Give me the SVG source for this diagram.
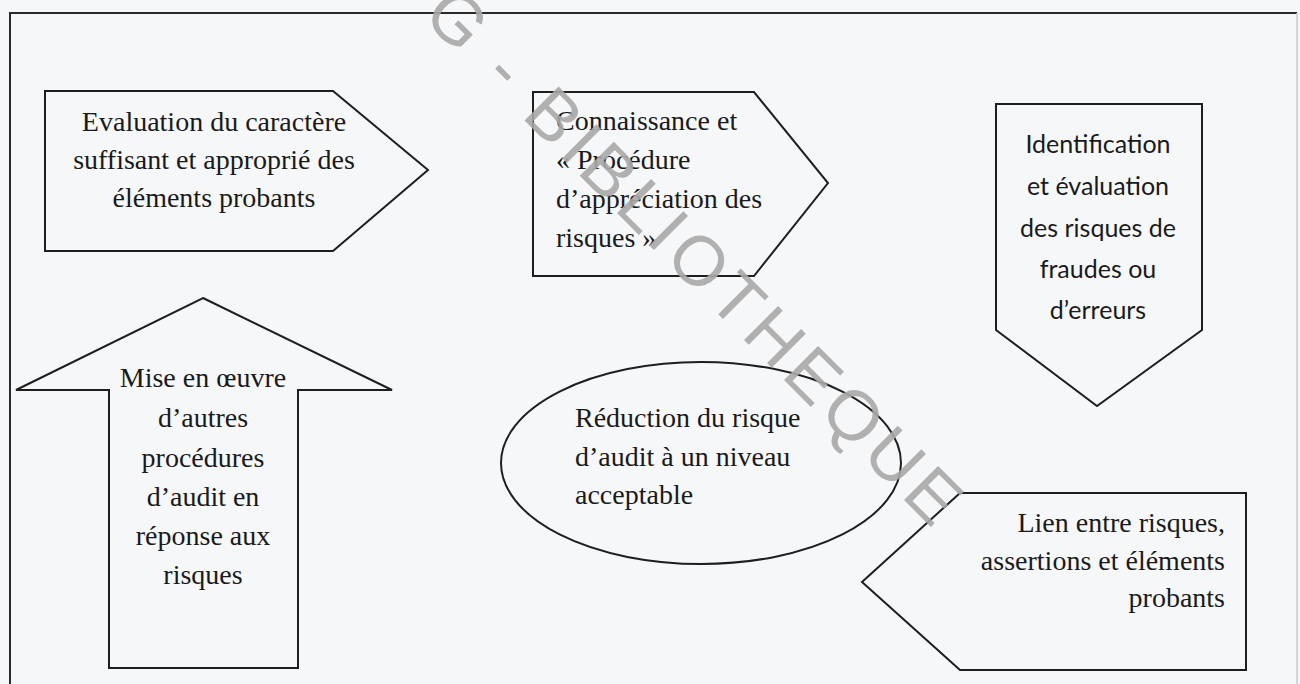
<svg xmlns="http://www.w3.org/2000/svg" width="1300" height="684" viewBox="0 0 1300 684">
<style>
.bg{fill:#f6f7f9}
.shape{fill:#f6f7f9;stroke:#1e1e1e;stroke-width:2;stroke-linejoin:miter}
.serif{font-family:"Liberation Serif","Times New Roman",serif;font-size:28px;fill:#1a1a1a}
.sans{font-family:Lato,"Open Sans","Liberation Sans",sans-serif;font-size:25px;fill:#1a1a1a}
.mid{text-anchor:middle}
.end{text-anchor:end}
.wm{font-family:"Liberation Sans",Arial,sans-serif;font-size:70px;fill:#a9a9a9}
</style>
<rect class="bg" x="0" y="0" width="1300" height="684"/>
<g id="frame">
<path d="M10,684 V13 H1297" fill="none" stroke="#2a2a2a" stroke-width="2"/>
<path d="M1297,13 V684" fill="none" stroke="#c8cacd" stroke-width="1.5"/>
</g>
<g id="connectors"></g>
<g id="node-evaluation">
<path class="shape" d="M45,91 H333 L428,170 L333,251 H45 Z"/>
<text class="serif mid" x="214" y="131">Evaluation du caractère</text>
<text class="serif mid" x="214" y="169">suffisant et approprié des</text>
<text class="serif mid" x="214" y="207">éléments probants</text>
</g>
<g id="node-connaissance">
<path class="shape" d="M533,92 H754 L828,183 L754,276 H533 Z"/>
<text class="serif" x="556" y="130">Connaissance et</text>
<text class="serif" x="556" y="169">« Procédure</text>
<text class="serif" x="556" y="208">d’appréciation des</text>
<text class="serif" x="556" y="247">risques »</text>
</g>
<g id="node-identification">
<path class="shape" d="M996,104 H1202 V330 L1097,406 L996,330 Z"/>
<text class="sans mid" x="1098" y="153">Identification</text>
<text class="sans mid" x="1098" y="195">et évaluation</text>
<text class="sans mid" x="1098" y="237">des risques de</text>
<text class="sans mid" x="1098" y="278">fraudes ou</text>
<text class="sans mid" x="1098" y="319">d’erreurs</text>
</g>
<g id="node-mise-en-oeuvre">
<path class="shape" d="M203,298 L392,390 H298 V668 H109 V390 H16 Z"/>
<text class="serif mid" x="203" y="387">Mise en œuvre</text>
<text class="serif mid" x="203" y="427">d’autres</text>
<text class="serif mid" x="203" y="467">procédures</text>
<text class="serif mid" x="203" y="506">d’audit en</text>
<text class="serif mid" x="203" y="545">réponse aux</text>
<text class="serif mid" x="203" y="584">risques</text>
</g>
<g id="node-reduction">
<ellipse class="shape" cx="701" cy="463" rx="200" ry="101"/>
<text class="serif" x="575" y="427">Réduction du risque</text>
<text class="serif" x="575" y="466">d’audit à un niveau</text>
<text class="serif" x="575" y="504">acceptable</text>
</g>
<g id="node-lien">
<path class="shape" d="M1246,493 V670 H960 L862,582 L960,493 Z"/>
<text class="serif end" x="1225" y="532">Lien entre risques,</text>
<text class="serif end" x="1225" y="570">assertions et éléments</text>
<text class="serif end" x="1225" y="607">probants</text>
</g>
<g id="watermark" opacity="0.9">
<text class="wm" transform="translate(421,17) rotate(45)" x="0" y="0" textLength="724" lengthAdjust="spacing">G - BIBLIOTHEQUE</text>
</g>
</svg>
